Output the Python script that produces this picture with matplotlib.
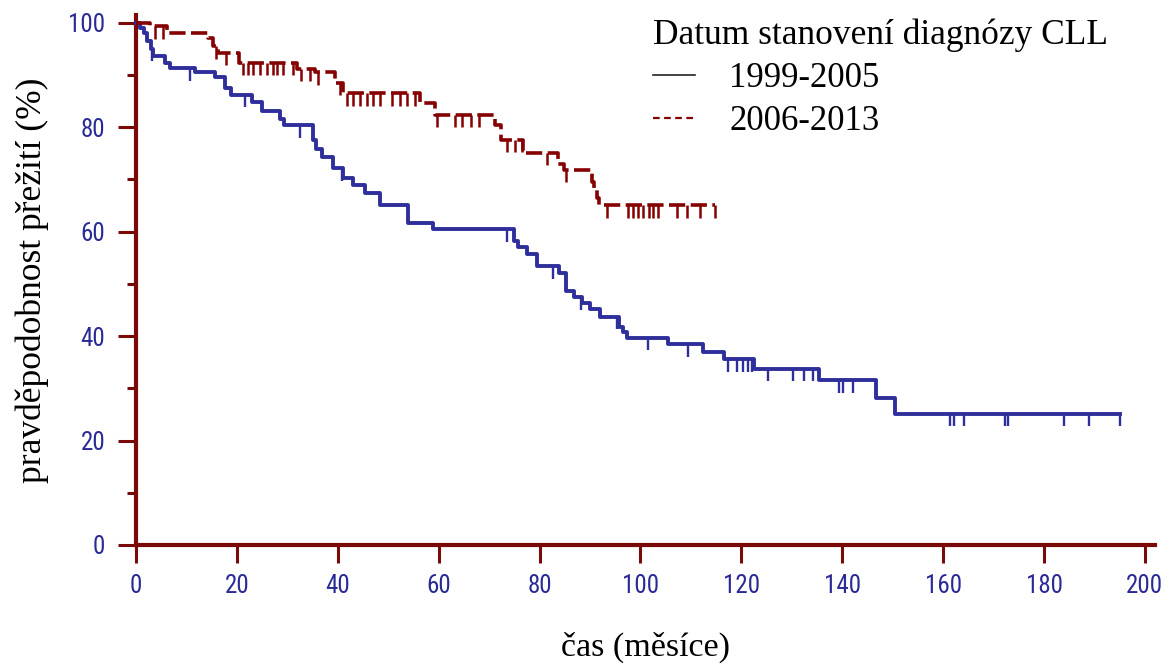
import numpy as np
import matplotlib
matplotlib.use("Agg")
import matplotlib.pyplot as plt
from matplotlib.lines import Line2D
from matplotlib.ticker import MultipleLocator

# ---- data ----
blue_t = [0, 0.8, 1.5, 2.2, 2.9, 3.4, 5.7, 6.7, 11.7, 15.7,
          17.6, 18.8, 22.9, 24.9, 28.5, 29.3, 35.0, 35.6, 36.8, 39.0,
          41.0, 43.0, 45.4, 48.4, 53.9, 58.9, 74.9, 75.8, 77.5, 79.5,
          83.8, 85.3, 86.8, 88.5, 90.0, 92.0, 95.7, 96.5, 97.3, 105.5,
          112.4, 116.5, 122.6, 135.3, 146.6, 150.5]
blue_s = [100, 99, 98, 96.5, 95, 93.6, 92.4, 91.3, 90.6, 89.6,
          87.6, 86.2, 84.8, 83.2, 81.6, 80.4, 77.6, 75.8, 74.4, 72.2,
          70.3, 69.0, 67.4, 65.1, 61.7, 60.5, 58.2, 57.0, 55.7, 53.4,
          52.1, 48.6, 47.4, 46.3, 45.2, 43.7, 41.8, 40.8, 39.7, 38.4,
          37.0, 35.6, 33.8, 31.6, 28.2, 25.1]
blue_end = 195.0
blue_cens = [3.1, 10.7, 21.6, 32.5, 40.8, 73.6, 82.6, 88.3, 95.3, 101.5,
             109.4, 117.4, 119.2, 120.4, 121.4, 122.2, 125.3, 130.3, 132.4, 134.3,
             139.4, 140.2, 142.2, 161.3, 162.2, 164.2, 172.3, 172.8, 184.0, 188.9, 195.0]

red_t = [0, 2.8, 6.2, 14.3, 15.3, 16.3, 20.5, 32.0, 35.5, 39.4,
         41.1, 56.3, 59.2, 71.2, 72.3, 76.7, 83.6, 84.8, 90.3, 90.8,
         91.3, 91.8]
red_s = [100, 99.3, 98.0, 97.0, 95.5, 94.3, 92.4, 91.2, 90.5, 88.5,
         86.5, 84.6, 82.4, 80.5, 77.6, 75.1, 73.0, 71.9, 69.5, 68.0,
         66.5, 65.1]
red_end = 114.8
red_cens = [3.8, 5.4, 15.8, 17.8, 21.3, 22.3, 23.2, 24.6, 25.9, 27.2,
            28.0, 29.2, 31.2, 32.8, 34.5, 36.1, 40.4, 41.8, 43.1, 44.4,
            45.7, 47.0, 48.4, 50.7, 52.3, 53.7, 55.3, 59.6, 63.2, 64.6,
            66.5, 67.9, 73.5, 75.1, 76.5, 81.4, 85.3, 93.3, 97.6, 98.6,
            99.6, 100.6, 101.6, 102.5, 103.5, 107.2, 109.2, 111.8, 114.8]

series_labels = ["1999-2005", "2006-2013"]
legend_title = "Datum stanovení diagnózy CLL"
x_ticks = [0, 20, 40, 60, 80, 100, 120, 140, 160, 180, 200]
y_ticks = [0, 20, 40, 60, 80, 100]
x_label = "čas (měsíce)"
y_label = "pravděpodobnost přežití (%)"

# ---- style ----
BLUE = "#2f2f9c"
RED = "#850000"
AXC = "#7a0a0a"
TICKC = "#2a2a96"
SERIF = ["Liberation Serif", "DejaVu Serif"]
NARROW = ["Liberation Sans Narrow", "DejaVu Sans Condensed", "Roboto Condensed",
          "Open Sans Condensed", "Liberation Sans"]

fig = plt.figure(figsize=(11.7, 6.66), dpi=100)
ax = fig.add_axes([136 / 1170, 1 - 545 / 666, (1155 - 136) / 1170, (545 - 15) / 666])


def step_xy(t, s, end):
    x = np.append(np.asarray(t, float), end)
    y = np.append(np.asarray(s, float), s[-1])
    return x, y


def surv_at(t, s, q):
    idx = np.searchsorted(np.asarray(t, float), np.asarray(q, float), side="right") - 1
    return np.asarray(s, float)[idx]


bx, by = step_xy(blue_t, blue_s, blue_end)
rx, ry = step_xy(red_t, red_s, red_end)

ax.step(bx, by, where="post", color=BLUE, lw=2.8, clip_on=False, zorder=3)
ax.step(rx, ry, where="post", color=RED, lw=2.6, ls=(0, (4.5, 1.5)), clip_on=False, zorder=3)

cl = 2.4
bv = surv_at(blue_t, blue_s, blue_cens)
ax.vlines(blue_cens, bv - cl, bv, color=BLUE, lw=1.7, zorder=3, clip_on=False)
rv = surv_at(red_t, red_s, red_cens)
ax.vlines(red_cens, rv - cl, rv, color=RED, lw=1.8, zorder=3, clip_on=False)

ax.set_xlim(0, 202)
ax.set_ylim(0, 101.5)
ax.set_xticks(x_ticks)
ax.set_yticks(y_ticks)
ax.yaxis.set_minor_locator(MultipleLocator(10))

for side in ("top", "right"):
    ax.spines[side].set_visible(False)
for side in ("left", "bottom"):
    ax.spines[side].set_color(AXC)
    ax.spines[side].set_linewidth(3.0)

ax.tick_params(axis="both", which="major", direction="out", length=13, width=2.2,
               color=AXC, labelcolor=TICKC, labelsize=18)
ax.tick_params(axis="x", which="major", pad=8)
ax.tick_params(axis="y", which="major", pad=9)
ax.tick_params(axis="y", which="minor", direction="out", length=6.5, width=2.2, color=AXC)
for lab in ax.get_xticklabels() + ax.get_yticklabels():
    lab.set_family(NARROW)

ax.set_xlabel(x_label, fontsize=24.5, family=SERIF, labelpad=24)
ax.set_ylabel(y_label, fontsize=25.5, family=SERIF, labelpad=14)

handles = [Line2D([], [], color="#222222", lw=1.2),
           Line2D([], [], color=RED, lw=1.6, ls=(0, (3, 2)))]
leg = ax.legend(handles, series_labels, title=legend_title, loc="upper left",
                bbox_to_anchor=(653 / 1170, 1 - 19 / 666), bbox_transform=fig.transFigure,
                frameon=False, prop={"family": SERIF, "size": 25},
                title_fontproperties={"family": SERIF, "size": 25.5},
                handlelength=1.2, handletextpad=1.0, labelspacing=0.28,
                borderpad=0.0, borderaxespad=0.0)
leg._legend_box.align = "left"
for txt in leg.get_texts():
    txt.set_color("black")

fig.savefig("out.png", dpi=100)
